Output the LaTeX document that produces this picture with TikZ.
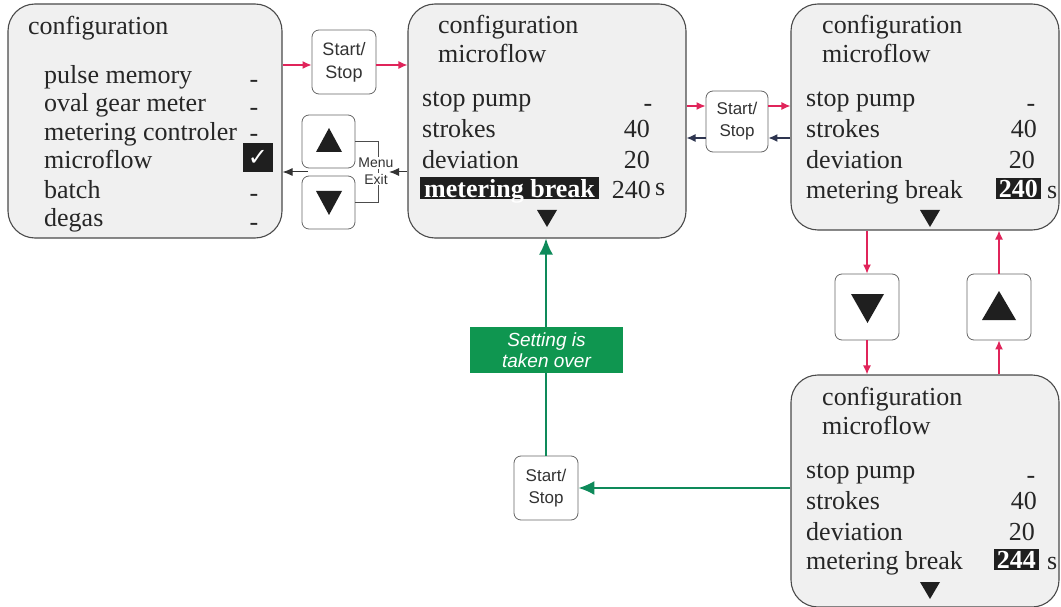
\documentclass[tikz,border=0pt]{standalone}
\usepackage{fontspec}
\setmainfont{Liberation Serif}
\newfontfamily\btnfont{Liberation Sans}
\newfontfamily\symfont{DejaVu Sans}
\usetikzlibrary{arrows.meta}
\definecolor{arrred}{HTML}{E0245A}
\definecolor{arrnavy}{HTML}{2E3550}
\definecolor{arrgreen}{HTML}{0E8A5A}
\definecolor{lblgreen}{HTML}{0F9650}
\definecolor{panelfill}{HTML}{F0F0F0}
\definecolor{panelline}{HTML}{4A4A4A}
\newcommand\rowfont{\fontsize{26}{30}\selectfont}
\tikzset{
  panel/.style={draw=panelline, line width=1.1pt, fill=panelfill, rounded corners=27pt, inner sep=0pt},
  btn/.style={draw=black!60, line width=0.8pt, fill=white, rounded corners=7pt, inner sep=0pt, align=center,
      text=black!80, font=\btnfont\fontsize{17}{22}\selectfont},
  txt/.style={anchor=base west, inner sep=0pt, text=black!85, font=\rowfont},
  val/.style={anchor=base east, inner sep=0pt, text=black!85, font=\rowfont},
  dashv/.style={anchor=base, inner sep=0pt, text=black!85, font=\rowfont},
  hl/.style={fill=black!88, text=white, font=\bfseries\rowfont, inner xsep=3pt, inner ysep=2pt, text depth=0pt},
  redarr/.style={draw=arrred, line width=1.3pt, -{Latex[length=9pt,width=8pt]}},
  navyarr/.style={draw=arrnavy, line width=1.3pt, -{Latex[length=9pt,width=8pt]}},
  blkarr/.style={draw=black!80, line width=1pt, -{Latex[length=10pt,width=8pt]}},
  grnarr/.style={draw=arrgreen, line width=2pt, -{Latex[length=16pt,width=14pt]}},
  tri/.style={fill=black!88},
}
\begin{document}
\begin{tikzpicture}[x=1pt,y=-1pt]
\useasboundingbox (0,0) rectangle (1061,607);

% ---------- panels ----------
\node[panel, minimum width=274pt, minimum height=234pt] (lp) at (145,121) {};
\node[panel, minimum width=278pt, minimum height=234pt] (cp) at (547,121) {};
\node[panel, minimum width=268pt, minimum height=226pt] (rtp) at (925,117) {};
\node[panel, minimum width=268pt, minimum height=232pt] (rbp) at (925,491) {};

% ---------- left panel ----------
\node[txt] (lpT) at (28,35) {configuration};
\node[txt] (lp1) at (44,84) {pulse memory};
\node[txt] (lp2) at (44,112) {oval gear meter};
\node[txt] (lp3) at (44,141) {metering controler};
\node[txt] (lp4) at (44,169) {microflow};
\node[txt] (lp5) at (44,198) {batch};
\node[txt] (lp6) at (44,226) {degas};
\node[dashv] (lpd1) at (254,88) {-};
\node[dashv] (lpd2) at (254,116) {-};
\node[dashv] (lpd3) at (254,141.5) {-};
\node[dashv] (lpd5) at (254,202) {-};
\node[dashv] (lpd6) at (254,230) {-};
\node[fill=black!88, minimum width=30pt, minimum height=29pt, inner sep=0pt, text=white,
      font=\symfont\fontsize{24}{24}\selectfont] (chk) at (258,158) {✓};

% ---------- center panel ----------
\node[txt] (cpT1) at (438,34) {configuration};
\node[txt] (cpT2) at (438,63) {microflow};
\node[txt] (cp1) at (422,107) {stop pump};
\node[txt] (cp2) at (422,138) {strokes};
\node[txt] (cp3) at (422,169) {deviation};
\node[txt, hl, inner xsep=4pt, anchor=base west] (cp4) at (420,197) {metering break};
\node[dashv] (cpv1) at (648,112) {-};
\node[val] (cpv2) at (650,138) {40};
\node[val] (cpv3) at (650,169) {20};
\node[val] (cpv4) at (651,198) {240};
\node[txt] (cps) at (655,196) {s};
\fill[tri] (537,210) -- (557,210) -- (547,227) -- cycle;

% ---------- right top panel ----------
\node[txt] (rtT1) at (822,34) {configuration};
\node[txt] (rtT2) at (822,63) {microflow};
\node[txt] (rt1) at (806,107) {stop pump};
\node[txt] (rt2) at (806,138) {strokes};
\node[txt] (rt3) at (806,169) {deviation};
\node[txt] (rt4) at (806,198) {metering break};
\node[dashv] (rtv1) at (1031,112) {-};
\node[val] (rtv2) at (1037,138) {40};
\node[val] (rtv3) at (1035,169) {20};
\node[hl, anchor=base east] (rtv4) at (1041,197) {240};
\node[txt] (rts) at (1047,198) {s};
\fill[tri] (920,210) -- (940,210) -- (930,227) -- cycle;

% ---------- right bottom panel ----------
\node[txt] (rbT1) at (822,405) {configuration};
\node[txt] (rbT2) at (822,434) {microflow};
\node[txt] (rb1) at (806,478) {stop pump};
\node[txt] (rb2) at (806,509) {strokes};
\node[txt] (rb3) at (806,540) {deviation};
\node[txt] (rb4) at (806,569) {metering break};
\node[dashv] (rbv1) at (1031,483) {-};
\node[val] (rbv2) at (1037,509) {40};
\node[val] (rbv3) at (1035,540) {20};
\node[hl, anchor=base east] (rbv4) at (1039,568) {244};
\node[txt] (rbs) at (1047,569) {s};
\fill[tri] (920,582) -- (940,582) -- (930,599) -- cycle;

% ---------- buttons ----------
\node[btn, minimum width=64pt, minimum height=64pt, font=\btnfont\fontsize{18}{23}\selectfont] (b1) at (344,62) {Start/\\Stop};
\node[btn, minimum width=53pt, minimum height=53pt] (bup1) at (328.5,141.5) {};
\node[btn, minimum width=53pt, minimum height=53pt] (bdn1) at (328.5,202.5) {};
\fill[tri] (316,152) -- (342,152) -- (329,128) -- cycle;
\fill[tri] (316,191) -- (342,191) -- (329,215) -- cycle;
\node[btn, minimum width=62pt, minimum height=61pt] (b2) at (737,121.5) {Start/\\Stop};
\node[btn, minimum width=64pt, minimum height=66pt] (bdn2) at (867,307) {};
\node[btn, minimum width=64pt, minimum height=66pt] (bup2) at (999,307) {};
\fill[tri] (851,294) -- (884,294) -- (867.5,323) -- cycle;
\fill[tri] (982,320) -- (1016,320) -- (999,291) -- cycle;
\node[btn, minimum width=64pt, minimum height=64pt] (b3) at (546,488) {Start/\\Stop};

% ---------- menu / exit bracket ----------
\coordinate (brk) at (378,0);
\draw[black!70, line width=0.8pt] (bup1.east) -- (bup1.east -| brk) -- (bdn1.east -| brk) -- (bdn1.east);
\node[fill=white, inner sep=1pt, text=black!80, font=\btnfont\fontsize{14}{15}\selectfont] (menu) at (376,163) {Menu};
\node[fill=white, inner sep=1pt, text=black!80, font=\btnfont\fontsize{14}{15}\selectfont] (exit) at (376,179) {Exit};
\coordinate (exitin) at (389,172);
\coordinate (gap) at (308,172);
\draw[blkarr] (cp.west |- exitin) -- (exitin);
\draw[blkarr] (gap) -- (lp.east |- gap);

% ---------- red / navy arrows ----------
\draw[redarr] (lp.east |- 0,65) -- (b1.west |- 0,65);
\draw[redarr] (b1.east |- 0,65) -- (cp.west |- 0,65);
\draw[redarr] (cp.east |- 0,106) -- (b2.west |- 0,106);
\draw[redarr] (b2.east |- 0,106) -- (rtp.west |- 0,106);
\draw[navyarr] (rtp.west |- 0,138) -- (b2.east |- 0,138);
\draw[navyarr] (b2.west |- 0,138) -- (cp.east |- 0,138);
\draw[redarr] (rtp.south -| bdn2.north) -- (bdn2.north);
\draw[redarr] (bdn2.south) -- (rbp.north -| bdn2.south);
\draw[redarr] (rbp.north -| bup2.south) -- (bup2.south);
\draw[redarr] (bup2.north) -- (rtp.south -| bup2.north);

% ---------- green ----------
\draw[grnarr] (rbp.west |- b3.east) -- (b3.east);
\draw[grnarr] (b3.north) -- (cp.south -| b3.north);
\node[fill=lblgreen, minimum width=153pt, minimum height=46pt, inner sep=0pt, align=center, text=white,
      font=\btnfont\itshape\fontsize{19}{21}\selectfont] (lbl) at (546.5,350) {Setting is\\taken over};
\end{tikzpicture}
\end{document}
